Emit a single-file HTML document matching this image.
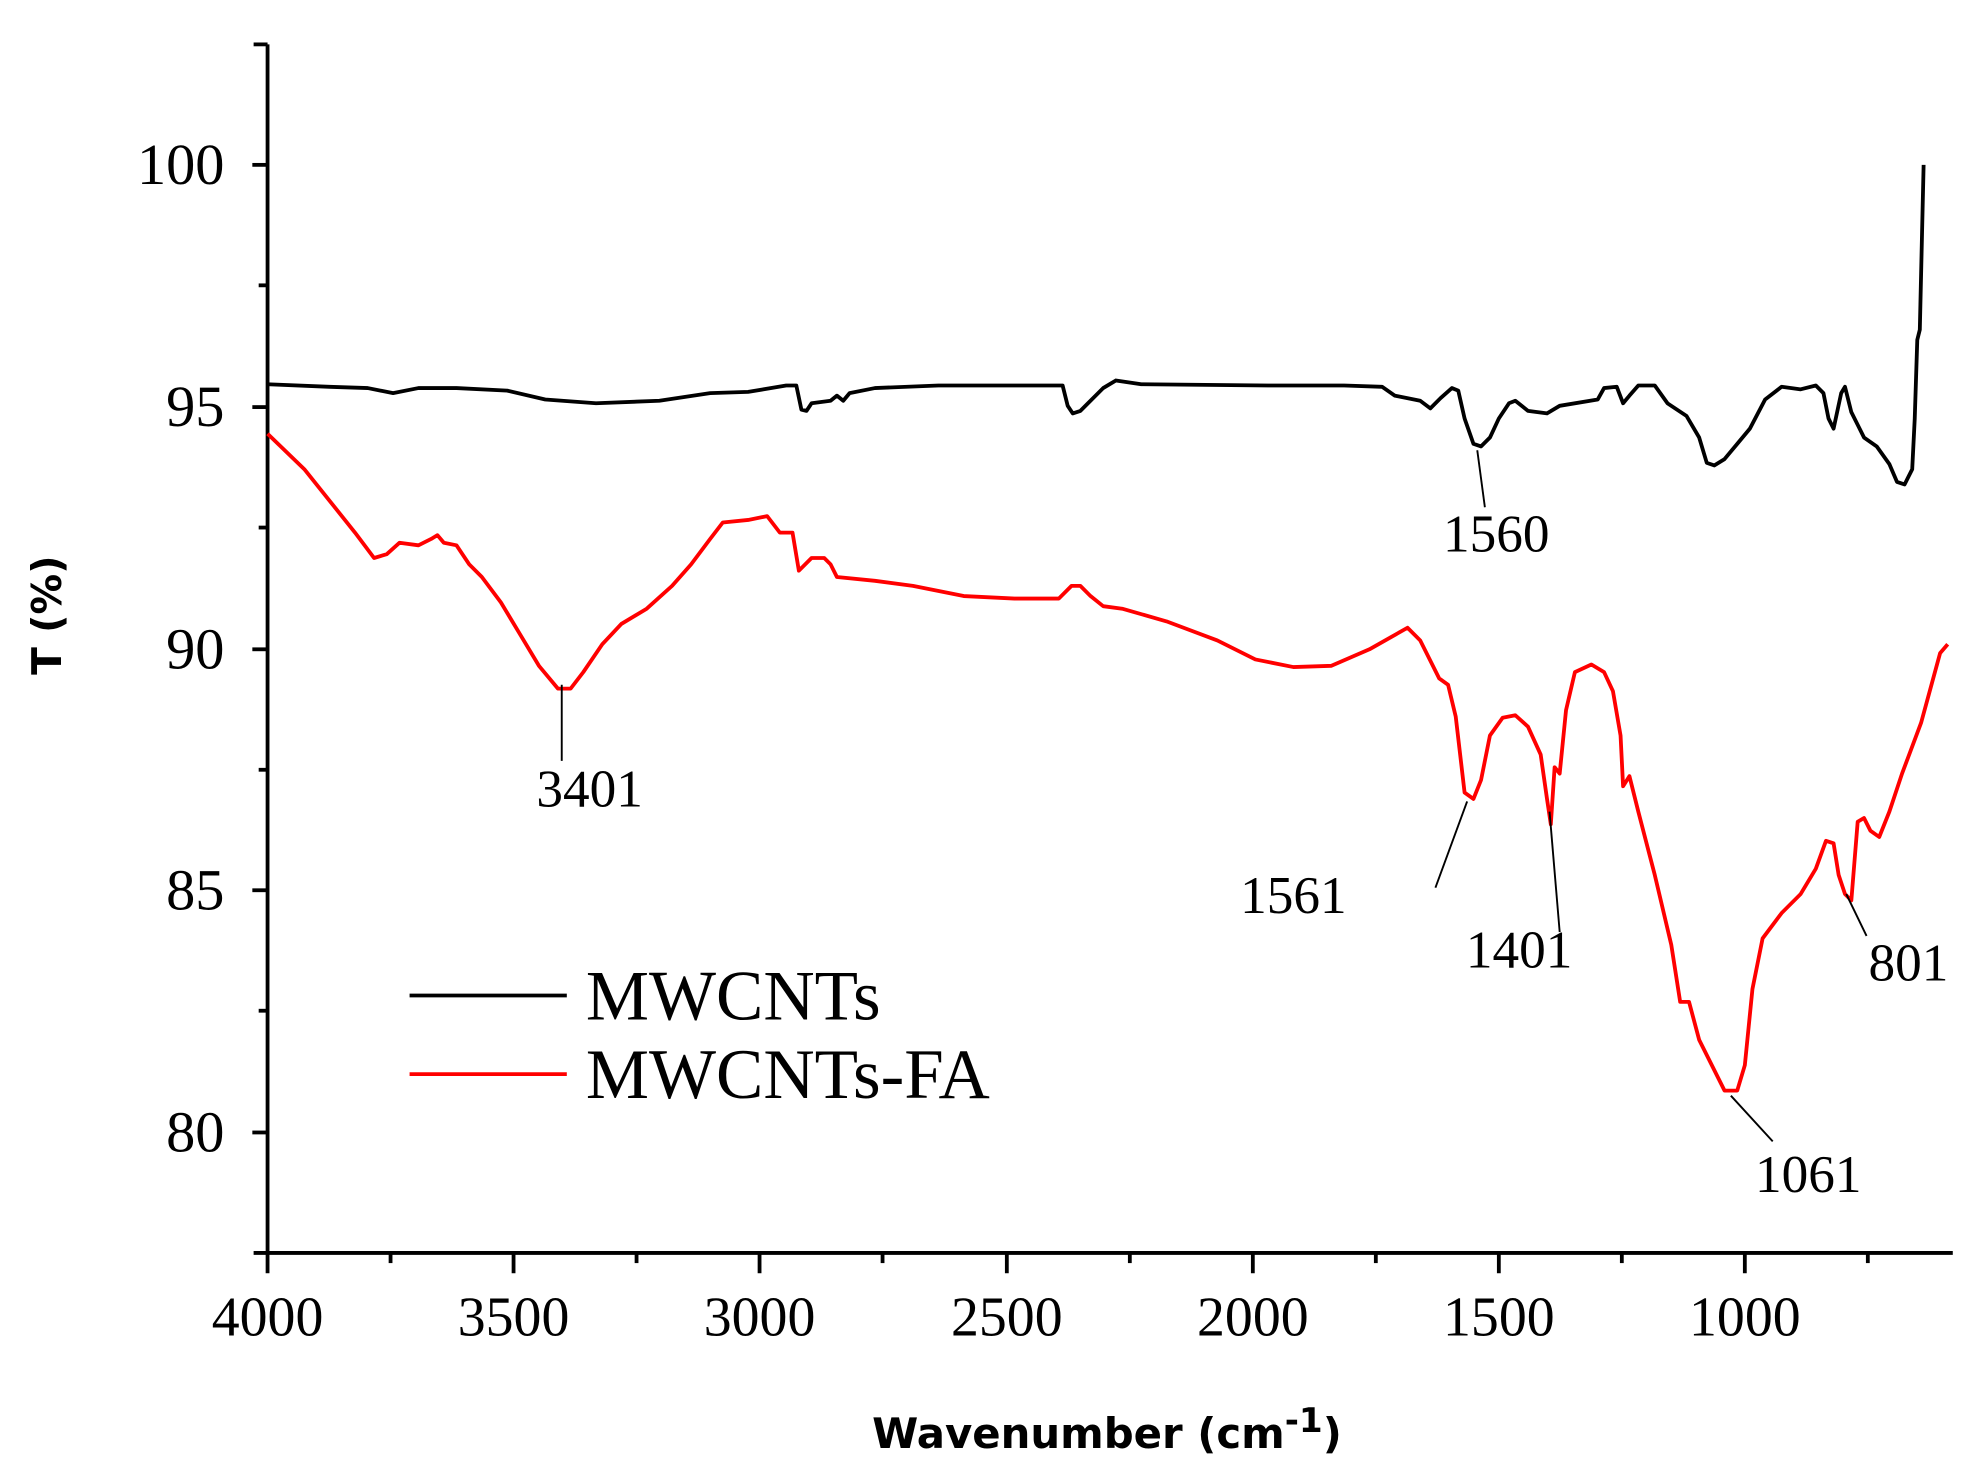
<!DOCTYPE html>
<html><head><meta charset="utf-8"><style>html,body{margin:0;padding:0;background:#fff;width:1968px;height:1466px;overflow:hidden}svg{display:block}</style></head>
<body>
<svg width="1968" height="1466" viewBox="0 0 1552 1156" preserveAspectRatio="none" xmlns="http://www.w3.org/2000/svg">
<g stroke="#000" stroke-width="3" fill="none">
<line x1="211" y1="35" x2="211" y2="988"/>
<line x1="200" y1="988" x2="1540" y2="988"/>
<line x1="200" y1="35" x2="211" y2="35"/>
<line x1="199" y1="130" x2="211" y2="130"/><line x1="204" y1="225" x2="211" y2="225"/>
<line x1="199" y1="321" x2="211" y2="321"/><line x1="204" y1="416" x2="211" y2="416"/>
<line x1="199" y1="512" x2="211" y2="512"/><line x1="204" y1="607" x2="211" y2="607"/>
<line x1="199" y1="702" x2="211" y2="702"/><line x1="204" y1="797" x2="211" y2="797"/>
<line x1="199" y1="893" x2="211" y2="893"/>
<line x1="211" y1="988" x2="211" y2="1004"/><line x1="308" y1="988" x2="308" y2="996"/>
<line x1="405" y1="988" x2="405" y2="1004"/><line x1="502" y1="988" x2="502" y2="996"/>
<line x1="599" y1="988" x2="599" y2="1004"/><line x1="696" y1="988" x2="696" y2="996"/>
<line x1="794" y1="988" x2="794" y2="1004"/><line x1="891" y1="988" x2="891" y2="996"/>
<line x1="988" y1="988" x2="988" y2="1004"/><line x1="1085" y1="988" x2="1085" y2="996"/>
<line x1="1182" y1="988" x2="1182" y2="1004"/><line x1="1279" y1="988" x2="1279" y2="996"/>
<line x1="1376" y1="988" x2="1376" y2="1004"/><line x1="1473" y1="988" x2="1473" y2="996"/>
</g>
<g font-family="Liberation Serif, serif" font-size="46" fill="#000" text-anchor="end">
<text x="177" y="145">100</text><text x="177" y="336">95</text><text x="177" y="527">90</text><text x="177" y="717">85</text><text x="177" y="908">80</text>
</g>
<g font-family="Liberation Serif, serif" font-size="44" fill="#000" text-anchor="middle">
<text x="211" y="1053">4000</text><text x="405" y="1053">3500</text><text x="599" y="1053">3000</text><text x="794" y="1053">2500</text><text x="988" y="1053">2000</text><text x="1182" y="1053">1500</text><text x="1376" y="1053">1000</text>
</g>
<text transform="translate(48,485) rotate(-90)" font-family="DejaVu Sans, sans-serif" font-weight="bold" font-size="32" text-anchor="middle">T (%)</text>
<text x="873" y="1142" font-family="DejaVu Sans, sans-serif" font-weight="bold" font-size="33" text-anchor="middle">Wavenumber (cm<tspan font-size="27" dy="-13">-1</tspan><tspan dy="13">)</tspan></text>
<polyline fill="none" stroke="#000" stroke-width="3" stroke-linejoin="round" points="211,303 260,305 290,306 310,310 330,306 360,306 400,308 430,315 470,318 520,316 560,310 590,309 620,304 628,304 632,323 636,324 640,318 655,316 660,312 665,316 670,310 690,306 740,304 800,304 838,304 842,320 846,326 852,324 858,318 870,306 880,300 900,303 1000,304 1060,304 1090,305 1100,312 1120,316 1128,322 1136,314 1145,306 1150,308 1155,330 1162,350 1168,352 1175,345 1182,330 1190,318 1195,316 1205,324 1220,326 1230,320 1260,315 1265,306 1275,305 1280,318 1285,312 1292,304 1305,304 1315,318 1330,328 1340,345 1346,365 1352,367 1360,362 1370,350 1380,338 1392,315 1405,305 1420,307 1432,304 1438,310 1442,330 1446,338 1452,310 1455,305 1460,325 1465,335 1470,345 1480,352 1490,366 1496,380 1502,382 1508,370 1510,330 1512,268 1514,260 1517,130"/>
<polyline fill="none" stroke="#f00" stroke-width="3" stroke-linejoin="round" points="211,342 240,370 260,395 280,420 295,440 305,437 315,428 330,430 340,425 345,422 350,428 360,430 370,445 380,455 395,475 410,500 425,525 440,543 450,543 460,530 475,508 490,492 510,480 530,462 545,445 560,425 570,412 590,410 605,407 615,420 625,420 630,450 640,440 650,440 655,445 660,455 690,458 720,462 760,470 800,472 835,472 845,462 852,462 860,470 870,478 885,480 920,490 960,505 990,520 1020,526 1050,525 1080,512 1110,495 1120,505 1135,535 1142,540 1148,565 1155,625 1162,630 1168,615 1175,580 1185,566 1195,564 1205,573 1215,595 1220,630 1223,650 1226,605 1230,610 1235,560 1242,530 1255,524 1265,530 1272,545 1278,580 1280,620 1285,612 1292,640 1305,690 1318,745 1325,790 1332,790 1340,820 1350,840 1360,860 1370,860 1376,840 1382,780 1390,740 1405,720 1420,705 1432,685 1440,663 1446,665 1450,690 1455,705 1460,710 1465,648 1470,645 1475,655 1482,660 1490,640 1500,610 1515,570 1530,515 1536,508"/>
<g stroke="#000" stroke-width="1.5">
<line x1="1165" y1="355" x2="1171" y2="400"/>
<line x1="443" y1="540" x2="443" y2="600"/>
<line x1="1157" y1="632" x2="1132" y2="700"/>
<line x1="1222" y1="640" x2="1230" y2="735"/>
<line x1="1456" y1="705" x2="1472" y2="738"/>
<line x1="1365" y1="864" x2="1398" y2="900"/>
</g>
<g font-family="Liberation Serif, serif" font-size="42" fill="#000" text-anchor="middle">
<text x="1180" y="435">1560</text>
<text x="465" y="636">3401</text>
<text x="1020" y="720">1561</text>
<text x="1198" y="763">1401</text>
<text x="1505" y="773">801</text>
<text x="1426" y="940">1061</text>
</g>
<line x1="323" y1="785" x2="447" y2="785" stroke="#000" stroke-width="3"/>
<line x1="323" y1="847" x2="447" y2="847" stroke="#f00" stroke-width="3"/>
<g font-family="Liberation Serif, serif" font-size="56" fill="#000">
<text x="462" y="804">MWCNTs</text>
<text x="462" y="866">MWCNTs-FA</text>
</g>
</svg>
</body></html>
